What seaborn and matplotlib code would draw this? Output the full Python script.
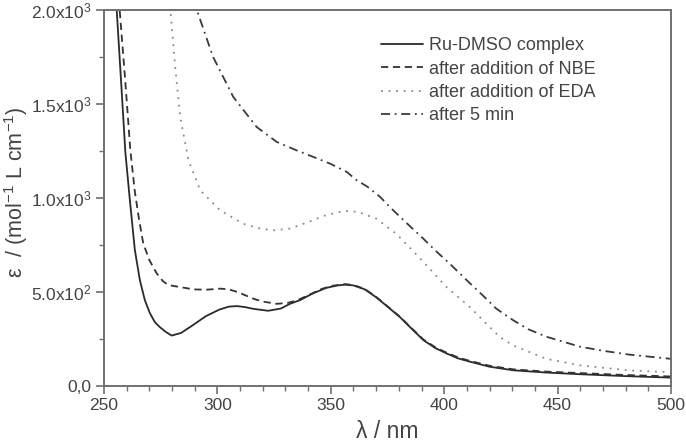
import numpy as np
import pandas as pd
import matplotlib
matplotlib.use("Agg")
import matplotlib.pyplot as plt
import seaborn as sns
from matplotlib.ticker import MultipleLocator, FixedLocator, FixedFormatter

# ---- data ----
labels = ["Ru-DMSO complex", "after addition of NBE", "after addition of EDA", "after 5 min"]

wl_ru = [255.3, 255.6, 257.5, 259.4, 261.4, 263.6, 265.8, 268.0, 270.2, 272.4, 274.6, 277.3,
         279.8, 284, 289, 295, 301, 305, 308.6, 312, 316, 322.4, 328, 332, 336.5, 342,
         348, 353, 356.3, 360, 365, 370, 375, 380.5, 385, 390.8, 396, 401, 406, 411.3,
         420, 430.5, 445, 460, 480, 500]
eps_ru = [2060, 2000, 1627, 1245, 988, 722, 562, 455, 386, 338, 311, 285,
          266, 280, 320, 370, 405, 420, 423, 418, 408, 398, 410, 435, 455, 490,
          520, 533, 537, 533, 512, 470, 420, 364, 310, 242, 200, 171, 145, 127,
          100, 81, 69, 60, 50, 42]

wl_nbe = [256.7, 257.0, 259.4, 261.6, 263.6, 265.5, 267.3, 270.0, 273.2, 275.8, 278.3, 284.2,
          289.5, 295, 301.3, 305, 308.6, 312, 315.9, 320, 326.2, 331, 335, 340, 345,
          350, 356.3, 360, 365, 370, 375, 380.5, 385, 390.8, 396, 401, 406, 411.3,
          420, 430.5, 445, 460, 480, 500]
eps_nbe = [2060, 1985, 1618, 1254, 1032, 881, 757, 668, 598, 558, 535, 523,
           512, 510, 516, 512, 499, 482, 462, 447, 435, 440, 453, 480, 510,
           530, 540, 535, 514, 472, 422, 366, 313, 245, 204, 175, 150, 131,
           105, 86, 74, 66, 56, 48]

wl_eda = [279.0, 279.4, 281.4, 283.6, 287.3, 292.5, 301.3, 311.5, 318, 324.6, 332, 336.5,
          342, 348, 356.3, 362, 370, 378.8, 386, 393.6, 401, 411.3, 418.6, 424.5,
          430.5, 445, 460, 482, 500]
eps_eda = [2080, 1980, 1695, 1429, 1198, 1038, 932, 861, 838, 826, 836, 855,
           880, 908, 930, 925, 889, 809, 720, 622, 524, 418, 329, 258,
           213, 142, 107, 80, 71]

wl_5min = [291.0, 291.5, 298.1, 307, 317.3, 326.2, 335, 342.4, 350, 357.1, 361.3, 366,
           371.8, 376, 383, 390.8, 396, 402.5, 410, 417, 423, 430.5, 437, 445,
           459.8, 470, 481.9, 500]
eps_5min = [2060, 1980, 1750, 1537, 1377, 1297, 1252, 1217, 1180, 1137, 1094, 1060,
            1004, 951, 870, 782, 720, 648, 560, 480, 409, 347, 300, 260,
            207, 185, 164, 142]

x_ticks = [250, 300, 350, 400, 450, 500]
y_ticks = [0, 500, 1000, 1500, 2000]
y_ticklabels = ["0,0", r"5.0x10$^{2}$", r"1.0x10$^{3}$", r"1.5x10$^{3}$", r"2.0x10$^{3}$"]

# ---- style ----
sns.set_theme(style="ticks")
plt.rcParams["font.family"] = ["Liberation Sans", "DejaVu Sans"]
plt.rcParams["mathtext.fontset"] = "custom"
plt.rcParams["mathtext.rm"] = "Liberation Sans"
plt.rcParams["mathtext.it"] = "Liberation Sans:italic"

text_col = "#444444"
spine_col = "#707070"

fig = plt.figure(figsize=(6.86, 4.47), dpi=100)
ax = fig.add_axes([104 / 686, 1 - 385.5 / 447, (671 - 104) / 686, (385.5 - 10) / 447])

series = [
    (wl_ru, eps_ru, dict(color="#2a2a2a", lw=1.3, ls="-")),
    (wl_nbe, eps_nbe, dict(color="#333333", lw=1.3, ls=(0, (4.0, 2.6)))),
    (wl_eda, eps_eda, dict(color="#8a8a8a", lw=1.3, ls=(0, (1.0, 3.2)))),
    (wl_5min, eps_5min, dict(color="#3a3a3a", lw=1.3, ls=(0, (5.0, 2.6, 1.0, 2.6)))),
]
for (wl, ep, st), lab in zip(series, labels):
    df = pd.DataFrame({"wl": wl, "eps": ep})
    sns.lineplot(data=df, x="wl", y="eps", ax=ax, label=lab, sort=False,
                 color=st["color"], linewidth=st["lw"], linestyle=st["ls"])

ax.set_xlim(250, 500)
ax.set_ylim(0, 2000)
ax.xaxis.set_major_locator(FixedLocator(x_ticks))
ax.xaxis.set_minor_locator(MultipleLocator(10))
ax.yaxis.set_major_locator(FixedLocator(y_ticks))
ax.yaxis.set_major_formatter(FixedFormatter(y_ticklabels))
ax.yaxis.set_minor_locator(MultipleLocator(250))

for sp in ax.spines.values():
    sp.set_color(spine_col)
    sp.set_linewidth(1.4)

ax.tick_params(axis="both", which="major", direction="out", length=6, width=1.2,
               color=spine_col, labelcolor=text_col, labelsize=12.5, pad=3)
ax.tick_params(axis="both", which="minor", direction="out", length=3.5, width=1.0,
               color=spine_col)
ax.tick_params(top=False, right=False, which="both")

ax.set_xlabel("λ / nm", fontsize=16.5, color=text_col)
ax.xaxis.set_label_coords(0.5, -(432 - 385.5) / 375.5)
ax.xaxis.label.set_va("center")
ax.set_ylabel(r"ε  / (mol$^{-1}$ L cm$^{-1}$)", fontsize=15.5, color=text_col)
ax.yaxis.set_label_coords(-(104 - 16) / 567, (385.5 - 192) / 375.5)
ax.yaxis.label.set_va("center")

leg = ax.legend(loc="upper left", bbox_to_anchor=((381 - 104) / 567, 1 - (37 - 10) / 375.5),
                frameon=False, fontsize=13, borderpad=0, borderaxespad=0,
                handlelength=2.3, handletextpad=0.35, labelspacing=0.36)
for t in leg.get_texts():
    t.set_color(text_col)

fig.savefig("out.png", dpi=100)
